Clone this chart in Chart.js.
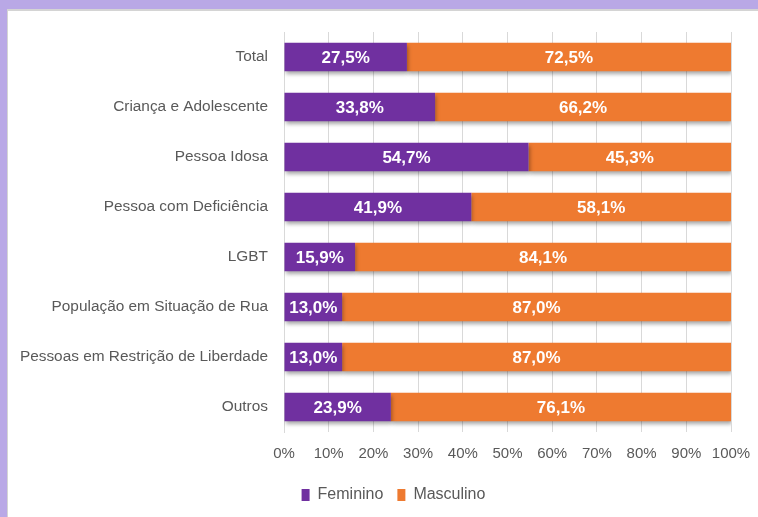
<!DOCTYPE html>
<html>
<head>
<meta charset="utf-8">
<script src="https://cdn.jsdelivr.net/npm/chart.js@4"></script>
<style>
  html, body { margin: 0; padding: 0; width: 758px; height: 517px; overflow: hidden; background: #b9a8e6; }
  #frame { position: absolute; left: 7px; top: 9px; width: 751px; height: 508px; background: #fff; border-left: 1px solid #d4d4d4; border-top: 2px solid #d4d4d4; box-sizing: border-box; }
  #wrap { position: absolute; left: 0; top: 0; width: 758px; height: 517px; }
</style>
</head>
<body>
<div id="frame"></div>
<div id="wrap"><canvas id="c" width="758" height="517"></canvas></div>
<script>
const categories = ["Total", "Criança e Adolescente", "Pessoa Idosa", "Pessoa com Deficiência", "LGBT", "População em Situação de Rua", "Pessoas em Restrição de Liberdade", "Outros"];
const feminino = [27.5, 33.8, 54.7, 41.9, 15.9, 13.0, 13.0, 23.9];
const masculino = [72.5, 66.2, 45.3, 58.1, 84.1, 87.0, 87.0, 76.1];
const seriesNames = ["Feminino", "Masculino"];
const xTicks = ["0%", "10%", "20%", "30%", "40%", "50%", "60%", "70%", "80%", "90%", "100%"];

const GRAY = "#595959";
const FONT = "'Liberation Sans', Arial, sans-serif";

const shadowPlugin = {
  id: "shadow",
  beforeDatasetsDraw(chart) {
    const ctx = chart.ctx;
    ctx.save();
    ctx.shadowColor = "rgba(0,0,0,0.35)";
    ctx.shadowBlur = 4;
    ctx.shadowOffsetX = 1;
    ctx.shadowOffsetY = 3;
  },
  afterDatasetsDraw(chart) {
    chart.ctx.restore();
  }
};

const legendShift = {
  id: "legendShift",
  afterLayout(chart) {
    if (chart.legend) {
      chart.legend.left += 28;
      chart.legend.right += 28;
    }
  }
};

const labelPlugin = {
  id: "valueLabels",
  afterDatasetsDraw(chart) {
    const ctx = chart.ctx;
    ctx.save();
    ctx.font = "bold 17px " + FONT;
    ctx.fillStyle = "#ffffff";
    ctx.textAlign = "center";
    ctx.textBaseline = "middle";
    chart.data.datasets.forEach((ds, di) => {
      const meta = chart.getDatasetMeta(di);
      meta.data.forEach((bar, i) => {
        const v = ds.data[i];
        const txt = v.toFixed(1).replace(".", ",") + "%";
        const cx = (bar.x + bar.base) / 2;
        ctx.fillText(txt, cx, bar.y + 1);
      });
    });
    ctx.restore();
  }
};

new Chart(document.getElementById("c"), {
  type: "bar",
  data: {
    labels: categories,
    datasets: [
      { label: seriesNames[0], data: feminino, backgroundColor: "#7030a0", barPercentage: 0.57, categoryPercentage: 1.0 },
      { label: seriesNames[1], data: masculino, backgroundColor: "#ee7a30", barPercentage: 0.57, categoryPercentage: 1.0 }
    ]
  },
  options: {
    indexAxis: "y",
    responsive: false,
    animation: false,
    layout: { padding: { left: 0, right: 27, top: 32, bottom: 4 } },
    scales: {
      x: {
        stacked: true,
        min: 0, max: 100,
        ticks: {
          stepSize: 10,
          color: GRAY,
          font: { family: FONT, size: 15 },
          padding: 13,
          callback: (v, i) => xTicks[i]
        },
        grid: { color: "#d9d9d9", drawTicks: false },
        border: { display: false },
        afterFit(scale) { scale.height = 41; scale.paddingRight = 0; scale.paddingLeft = 0; }
      },
      y: {
        stacked: true,
        ticks: { color: GRAY, font: { family: FONT, size: 15.4 }, padding: 16 },
        grid: { display: false, drawTicks: false },
        border: { display: true, color: "#d9d9d9" },
        afterFit(scale) { scale.width = 284; }
      }
    },
    plugins: {
      legend: {
        position: "bottom",
        labels: {
          color: GRAY,
          font: { family: FONT, size: 16 },
          boxWidth: 8,
          boxHeight: 12,
          padding: 14,
          useBorderRadius: false
        }
      },
      tooltip: { enabled: false }
    }
  },
  plugins: [shadowPlugin, labelPlugin, legendShift]
});
</script>
</body>
</html>
